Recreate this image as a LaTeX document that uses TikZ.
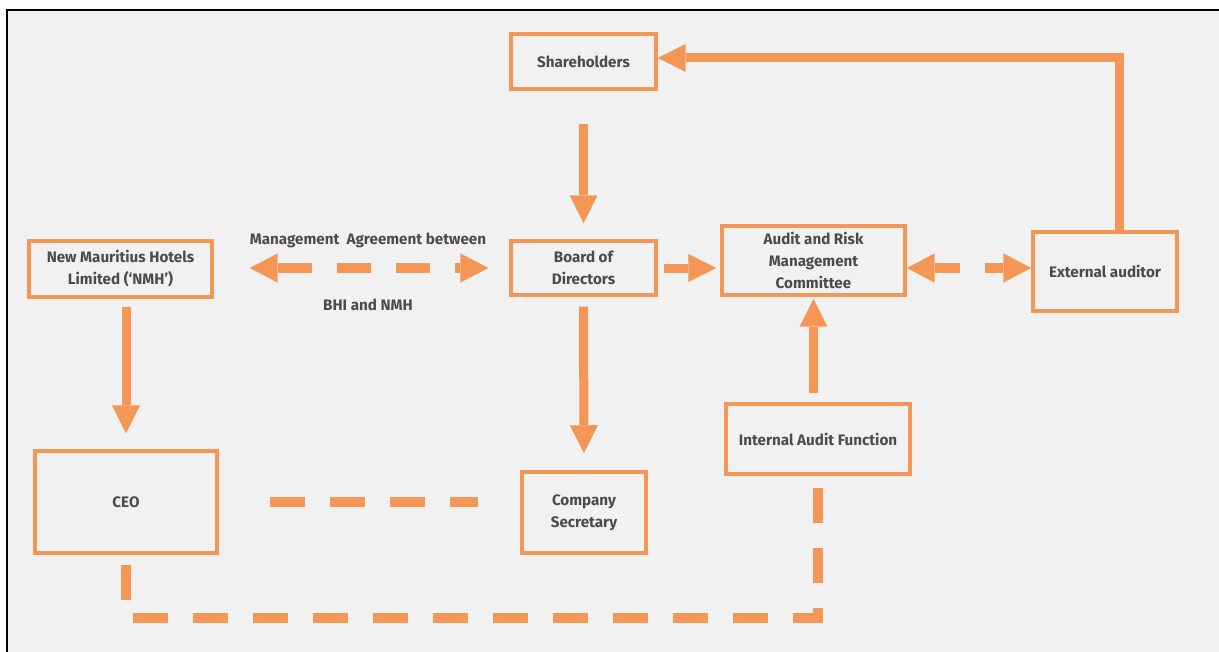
\documentclass[tikz,border=0pt]{standalone}
\usepackage{fontspec}
\setmainfont{Fira Sans}
\usetikzlibrary{arrows.meta}

\definecolor{boxorange}{RGB}{244,150,86}
\definecolor{labelgrey}{RGB}{78,74,74}
\definecolor{panelgrey}{RGB}{241,241,241}

\tikzset{every picture/.style={line width=0.75pt}}
\tikzset{
  orgbox/.style={draw=boxorange, line width=2.6pt, align=center, inner sep=0.75pt,
    text=labelgrey, font=\fontsize{11.4}{16.5}\selectfont\bfseries},
  orglabel/.style={inner sep=0.75pt, text=labelgrey, font=\fontsize{11.4}{16.5}\selectfont\bfseries},
  bigtip/.style={-{Triangle[width=21pt,length=21pt,line width=0pt]}},
  bigarrow/.style={draw=boxorange, line width=6.75pt, bigtip},
  dasharrow/.style={draw=boxorange, line width=7.5pt, dash pattern=on 25.5pt off 18.75pt,
    {Triangle[width=22pt,length=21pt,line width=0pt]}-{Triangle[width=22pt,length=21pt,line width=0pt]}},
  dashline/.style={draw=boxorange, line width=7.5pt, dash pattern=on 26.25pt off 18.75pt},
}

\begin{document}
\begin{tikzpicture}[x=0.75pt,y=0.75pt,yscale=-1,xscale=1]
\useasboundingbox (0,0) rectangle (1219,652);

%Shape: Panel
\fill[panelgrey] (7,10) rectangle (1219,652);
\draw[black, line width=1.5pt] (7,652) -- (7,10) -- (1219,10);

%Shape: Rectangle [Shareholders]
\node[orgbox, minimum width=108.75pt, minimum height=41.25pt] (sh) at (583.5,61.5) {Shareholders};
%Shape: Rectangle [Board]
\node[orgbox, minimum width=108.75pt, minimum height=40.5pt] (bod) at (583.5,268) {Board of\\Directors};
%Shape: Rectangle [Audit and Risk]
\node[orgbox, minimum width=137.25pt, minimum height=51.75pt] (armc) at (813.5,260.5) {Audit and Risk\\Management\\Committee};
%Shape: Rectangle [External auditor]
\node[orgbox, minimum width=108pt, minimum height=59.25pt] (ext) at (1105,271.5) {External auditor};
%Shape: Rectangle [NMH]
\node[orgbox, minimum width=137.25pt, minimum height=42pt] (nmh) at (120.5,269) {New Mauritius Hotels\\Limited (‘NMH’)};
%Shape: Rectangle [CEO]
\node[orgbox, minimum width=136.5pt, minimum height=76.5pt] (ceo) at (126,502) {CEO};
%Shape: Rectangle [Company Secretary]
\node[orgbox, minimum width=93pt, minimum height=60.75pt] (cs) at (584,512.5) {Company\\Secretary};
%Shape: Rectangle [Internal Audit]
\node[orgbox, minimum width=138pt, minimum height=52.5pt] (iaf) at (818,439) {Internal Audit Function};

% Text Node
\node[orglabel] (mgmttop) at (368,240) {Management~ Agreement between};
% Text Node
\node[orglabel] (mgmtbot) at (368,305) {BHI and NMH};

\coordinate (c1) at (1119,58);
\coordinate (c2) at (126,618);
\coordinate (c3) at (818,618);

%Straight Lines [solid arrows]
\draw[bigarrow, shorten <=24.75pt, shorten >=12pt] (sh.south) -- (bod.north);
\draw[bigarrow, shorten <=6pt, shorten >=12pt] (ceo.north |- nmh.south) -- (ceo.north);
\draw[bigarrow, shorten <=7.5pt, shorten >=12.75pt] (bod.south) -- (cs.north);
\draw[bigarrow, shorten <=4.5pt, shorten >=3pt] (bod.east) -- (bod.east -| armc.west);
\draw[bigarrow, shorten <=6.75pt, shorten >=1.5pt] (armc.south |- iaf.north) -- (armc.south);
\draw[bigarrow] (ext.north -| c1) -- (c1) -- (c1 -| sh.east);

%Straight Lines [dashed]
\draw[dasharrow, shorten <=27pt, shorten >=15.75pt] (bod -| nmh.east) -- (bod.west);
\draw[dasharrow, dash pattern=on 18.75pt off 18.75pt] (bod -| armc.east) -- (bod -| ext.west);
\draw[dashline, shorten <=38.25pt, shorten >=31.5pt] (ceo.east) -- (ceo.east -| cs.west);
\draw[dashline] ([yshift=7.5pt]ceo.south) -- (c2) -- (c3) -- ([yshift=6pt]iaf.south);

\end{tikzpicture}
\end{document}
